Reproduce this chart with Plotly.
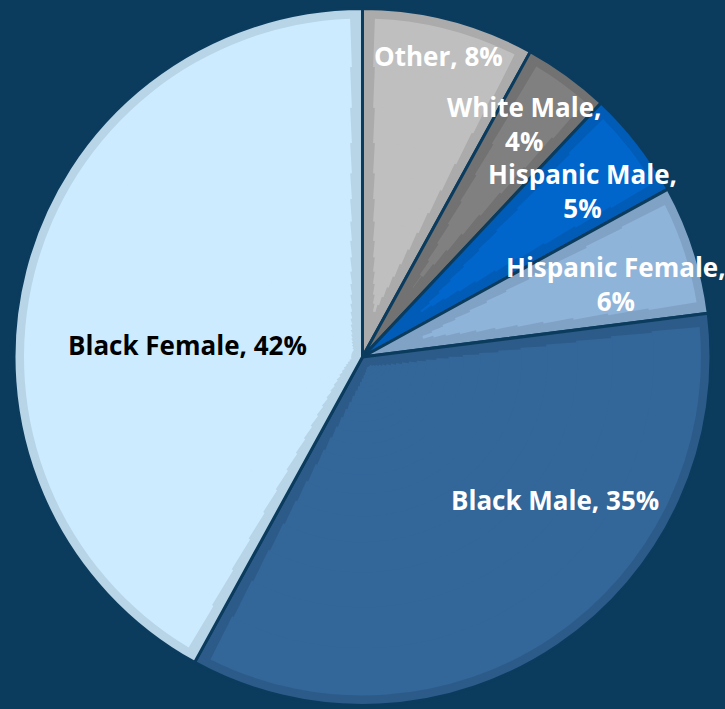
import math
import plotly.graph_objects as go

# Share of participants by group (percent), clockwise from 12 o'clock
categories = ["Other", "White Male", "Hispanic Male", "Hispanic Female", "Black Male", "Black Female"]
shares = [8, 4, 5, 6, 35, 42]

# Face colour and slightly darker bevel-edge colour per slice
fill_colors = ["#BFBFBF", "#808080", "#0066CC", "#8FB4DA", "#336699", "#CCEBFF"]
edge_colors = ["#ABABAB", "#727272", "#005CB7", "#80A2C5", "#2D5B89", "#B8D4E7"]

# Label styling: which labels wrap onto two lines, text colour, and centre in pixels
label_wrap = [False, True, True, True, False, False]
label_color = ["white", "white", "white", "white", "white", "black"]
label_pos = [(438, 56), (524, 124), (582, 191), (616, 284), (555, 500), (187, 345)]

BG = "#0B3C5E"
W, H = 725, 709
CX, CY = 362.5, 357.0
R_OUT = 348.5      # radius of the slice paths
BEVEL = 11.5       # width of the darker rim inside each slice
TRANSPARENT = "rgba(0,0,0,0)"


def domain(r):
    return dict(x=[(CX - r) / W, (CX + r) / W],
                y=[(H - CY - r) / H, (H - CY + r) / H])


fig = go.Figure()

# Base pie: full slices in the rim colour, separated by thin background lines
fig.add_trace(go.Pie(
    labels=categories, values=shares, sort=False, direction="clockwise", rotation=0,
    marker=dict(colors=edge_colors, line=dict(color=BG, width=3)),
    textinfo="none", hoverinfo="label+percent", domain=domain(R_OUT), showlegend=False,
))

# Face of each slice, inset from its edges: stacked concentric rings, each ring
# trimming a constant arc length off both sides of every slice
r_outer = R_OUT + 1.5 - BEVEL
radii = [r_outer]
while radii[-1] > 14:
    radii.append(radii[-1] * 0.86)

for k in range(len(radii) - 1):
    r_hi, r_lo = radii[k], radii[k + 1]
    r_ref = math.sqrt(r_hi * r_lo)
    gap = BEVEL / r_ref / (2 * math.pi) * 100
    vals, cols = [], []
    for v, c in zip(shares, fill_colors):
        a = min(gap, v / 2)
        vals += [a, v - 2 * a, a]
        cols += [TRANSPARENT, c, TRANSPARENT]
    fig.add_trace(go.Pie(
        labels=[f"ring{k}_{j}" for j in range(len(vals))], values=vals,
        sort=False, direction="clockwise", rotation=0,
        marker=dict(colors=cols, line=dict(width=0)),
        hole=max(r_lo - 1, 0) / r_hi, textinfo="none", hoverinfo="skip",
        domain=domain(r_hi), showlegend=False,
    ))

# Slice labels
for cat, val, wrap, col, (px, py) in zip(categories, shares, label_wrap, label_color, label_pos):
    text = f"{cat},<br>{val}%" if wrap else f"{cat}, {val}%"
    fig.add_annotation(
        x=px / W, y=1 - py / H, xref="paper", yref="paper",
        text=text, showarrow=False, xanchor="center", yanchor="middle",
        font=dict(family="Open Sans", size=26, color=col, weight=700),
    )

fig.update_layout(
    width=W, height=H, margin=dict(l=0, r=0, t=0, b=0),
    paper_bgcolor=BG, plot_bgcolor=BG, showlegend=False,
)

fig.write_html("out.html")
